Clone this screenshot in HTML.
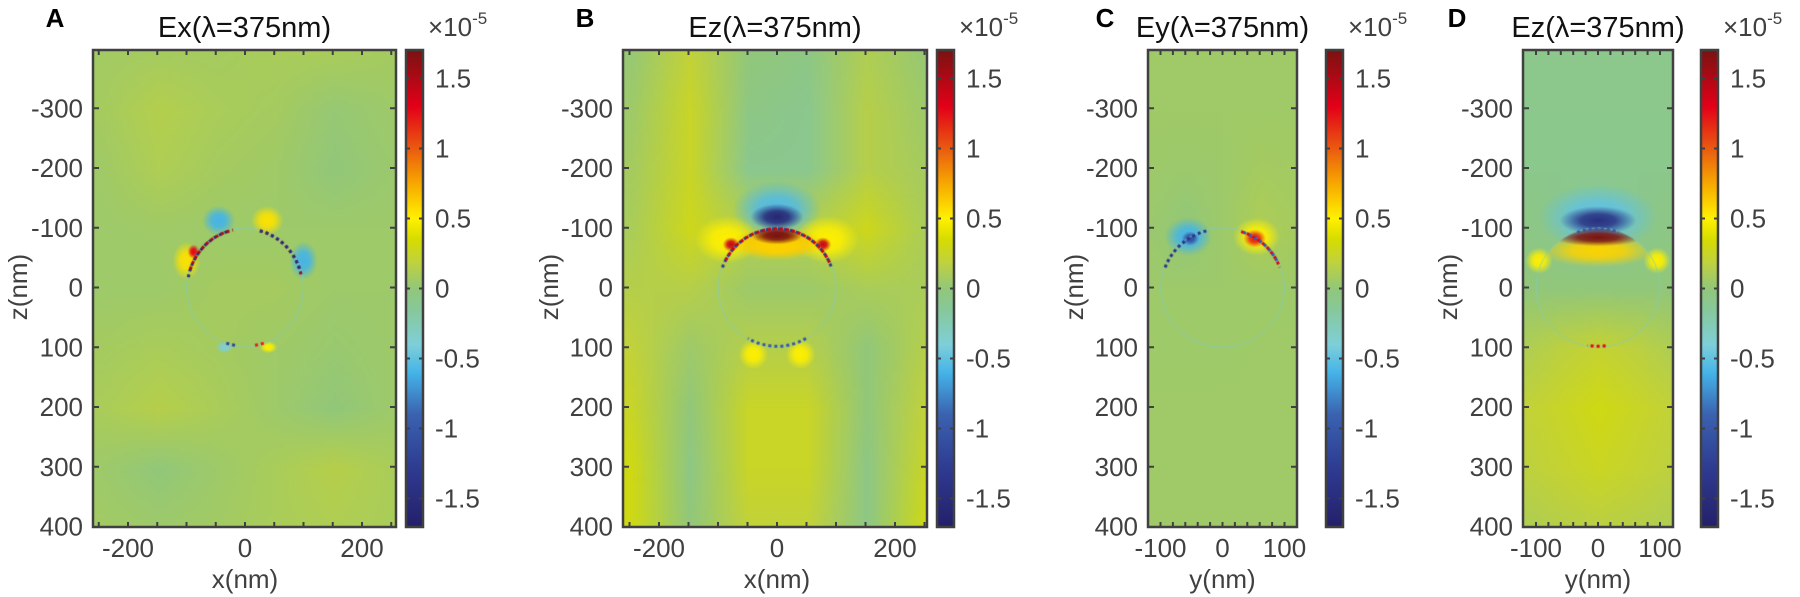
<!DOCTYPE html>
<html><head><meta charset="utf-8">
<style>
html,body{margin:0;padding:0;background:#fff;}
#wrap{position:relative;width:1800px;height:597px;overflow:hidden;font-family:"Liberation Sans",sans-serif;}
canvas{position:absolute;}
svg{position:absolute;left:0;top:0;}
</style></head>
<body>
<div id="wrap">
<svg id="svg" width="1800" height="597"></svg>
</div>
<script>
// ---------- data ----------
const zRows = [-400,-300,-200,-100,0,100,200,300,400];
const xColsWide = [-250,-150,-50,50,150,250];
const xColsNarrow = [-120,-60,0,60,120];
const colorbarTicks = [-1.5,-1,-0.5,0,0.5,1,1.5];
const colorbarTickLabels = ['-1.5','-1','-0.5','0','0.5','1','1.5'];
const zTicks = [-300,-200,-100,0,100,200,300,400];
const xTicksWide = [-200,0,200];
const xTicksNarrow = [-100,0,100];
const fieldA = [
 [0.07,0.08,0.08,0.10,0.10,0.08],
 [0.08,0.14,0.10,0.08,0.02,0.05],
 [0.06,0.12,0.08,0.06,0.00,0.04],
 [0.05,0.06,0.05,0.05,0.05,0.05],
 [0.05,0.05,0.08,0.08,0.05,0.05],
 [0.08,0.10,0.08,0.06,0.03,0.05],
 [0.10,0.15,0.10,0.05,0.00,0.05],
 [0.05,0.00,0.05,0.10,0.15,0.10],
 [0.07,0.05,0.07,0.10,0.12,0.10]];
const fieldB = [
 [0.02,0.20,0.00,-0.05,0.12,0.02],
 [0.05,0.25,-0.05,-0.10,0.15,0.05],
 [0.08,0.25,-0.10,-0.10,0.15,0.08],
 [0.10,0.28,0.15,0.15,0.28,0.10],
 [0.15,0.15,0.05,0.05,0.10,0.10],
 [0.20,0.05,0.15,0.15,0.00,0.15],
 [0.25,0.00,0.25,0.25,0.00,0.20],
 [0.30,-0.05,0.25,0.25,-0.05,0.25],
 [0.30,0.00,0.20,0.20,-0.05,0.30]];
const fieldC = [
 [0.06,0.06,0.06,0.06,0.06],
 [0.06,0.06,0.06,0.06,0.06],
 [0.05,0.04,0.05,0.08,0.07],
 [0.04,0.00,0.05,0.12,0.08],
 [0.05,0.05,0.05,0.05,0.05],
 [0.05,0.05,0.05,0.06,0.06],
 [0.06,0.06,0.06,0.06,0.06],
 [0.06,0.06,0.06,0.06,0.06],
 [0.06,0.06,0.06,0.06,0.06]];
const fieldD = [
 [-0.08,-0.08,-0.08,-0.08,-0.08],
 [-0.08,-0.08,-0.08,-0.08,-0.08],
 [-0.08,-0.09,-0.10,-0.09,-0.08],
 [-0.05,-0.10,-0.15,-0.10,-0.05],
 [0.00,0.00,0.00,0.00,0.00],
 [0.12,0.18,0.22,0.18,0.12],
 [0.20,0.25,0.30,0.25,0.20],
 [0.18,0.22,0.26,0.22,0.18],
 [0.12,0.15,0.17,0.15,0.12]];
// blobs: [x nm, z nm, rx nm, rz nm, value]
const blobsA = [[-45,-112,28,25,-0.6],[38,-112,28,25,0.55],[-100,-45,24,32,0.55],[-88,-60,10,12,1.3],[100,-45,24,32,-0.6],[-35,100,15,10,-0.4],[40,100,15,10,0.5]];
const blobsB = [[0,-130,75,48,-0.55],[85,-80,55,40,0.5],[-85,-80,55,40,0.5],[0,-118,45,22,-1.6],[0,-75,78,25,0.7],[0,-86,42,14,1.7],[-78,-72,14,12,1.4],[78,-72,14,12,1.4],[-40,112,25,25,0.5],[40,112,25,25,0.5]];
const blobsC = [[-55,-85,38,32,-0.6],[55,-85,38,32,0.5],[52,-82,18,15,1.2],[-52,-82,14,12,-1.1]];
const blobsD = [[0,-118,95,55,-0.5],[0,-112,62,24,-1.45],[-95,-45,22,22,0.5],[95,-45,22,22,0.5]];
const innerD = [[0,-62,95,28,0.6],[0,-84,72,15,1.7]];
const innerB = [[0,-70,80,25,0.6],[0,-86,42,14,1.7]];
// rim arcs: [startDeg, endDeg, value]
const rimA = [[190,255,-1.5],[195,258,1.5],[285,350,1.5],[282,345,-1.5],[100,112,-1.2],[68,80,1.2]];
const rimB = [[200,340,-1.3],[205,335,1.4],[60,120,-1.0]];
const rimC = [[200,255,-1.4],[285,340,1.3],[290,335,-1.0]];
const rimD = [[250,290,-1.0],[80,100,1.3]];

// ---------- colormap ----------
const cmV = [-1.7,-1.3,-0.9,-0.6,-0.4,-0.15,0,0.2,0.35,0.5,0.75,1.0,1.3,1.7];
const cmC = ['#24206a','#2e3a8f','#3a62b0','#45b4e8','#7fcfd8','#87c89a','#92c77a','#c2d23a','#d6dc00','#fff000','#f7a800','#ea5a10','#e30018','#7a1212'];
function hex(h){return [parseInt(h.substr(1,2),16),parseInt(h.substr(3,2),16),parseInt(h.substr(5,2),16)];}
function cmap(v){
  if(v<=cmV[0]) return hex(cmC[0]);
  for(let i=1;i<cmV.length;i++){ if(v<=cmV[i]){const t=(v-cmV[i-1])/(cmV[i]-cmV[i-1]);const a=hex(cmC[i-1]),b=hex(cmC[i]);return a.map((c,k)=>Math.round(c+(b[k]-c)*t));}}
  return hex(cmC[cmC.length-1]);
}
function rgba(v,a){const c=cmap(v);return 'rgba('+c[0]+','+c[1]+','+c[2]+','+a+')';}

// ---------- layout ----------
const Y0=50,Y1=527;
function zy(z){return 287.5+z*0.5975;}
function cby(v){return 288.5-v*140;}
const panels=[
 {id:'a',letter:'A',title:'Ex',x0:93,x1:396,xc:245,sc:0.585,cb:406,cols:xColsWide,field:fieldA,blobs:blobsA,inner:null,rim:rimA,xt:xTicksWide,minor:50,xl:'x(nm)',zlx:20,letterX:55},
 {id:'b',letter:'B',title:'Ez',x0:623,x1:927,xc:777,sc:0.59,cb:937,cols:xColsWide,field:fieldB,blobs:blobsB,inner:innerB,rim:rimB,xt:xTicksWide,minor:50,xl:'x(nm)',zlx:551,letterX:585},
 {id:'c',letter:'C',title:'Ey',x0:1148,x1:1297,xc:1222.5,sc:0.62,cb:1326,cols:xColsNarrow,field:fieldC,blobs:blobsC,inner:null,rim:rimC,xt:xTicksNarrow,minor:20,xl:'y(nm)',zlx:1076,letterX:1105},
 {id:'d',letter:'D',title:'Ez',x0:1523,x1:1673,xc:1598,sc:0.62,cb:1701,cols:xColsNarrow,field:fieldD,blobs:blobsD,inner:innerD,rim:rimD,xt:xTicksNarrow,minor:20,xl:'y(nm)',zlx:1450,letterX:1457}
];
const wrap=document.getElementById('wrap');
const svg=document.getElementById('svg');
const NS='http://www.w3.org/2000/svg';
function S(tag,attrs,parent){const e=document.createElementNS(NS,tag);for(const k in attrs)e.setAttribute(k,attrs[k]);(parent||svg).appendChild(e);return e;}
const TC='#404040';
const FS=26;

panels.forEach(p=>{
  const W=p.x1-p.x0,H=Y1-Y0;
  const xp=x=>p.xc+x*p.sc;
  const cv=document.createElement('canvas');
  cv.width=W;cv.height=H;cv.style.left=p.x0+'px';cv.style.top=Y0+'px';
  
  
  wrap.insertBefore(cv,svg);
  const ctx=cv.getContext('2d');
  const nc=p.cols.length,nr=zRows.length;
  const sm=document.createElement('canvas');sm.width=nc;sm.height=nr;
  const sctx=sm.getContext('2d');const img=sctx.createImageData(nc,nr);
  for(let r=0;r<nr;r++)for(let c=0;c<nc;c++){const col=cmap(p.field[r][c]);const i=(r*nc+c)*4;img.data[i]=col[0];img.data[i+1]=col[1];img.data[i+2]=col[2];img.data[i+3]=255;}
  sctx.putImageData(img,0,0);
  ctx.imageSmoothingEnabled=true;
  const cx0=xp(p.cols[0])-p.x0,cx1=xp(p.cols[nc-1])-p.x0;
  const cy0=zy(zRows[0])-Y0,cy1=zy(zRows[nr-1])-Y0;
  const dx=(cx1-cx0)/(nc-1),dy=(cy1-cy0)/(nr-1);
  ctx.fillStyle=rgba(p.field[4][2],1);ctx.fillRect(0,0,W,H);
  ctx.drawImage(sm,0,0,nc,nr,cx0-dx/2,cy0-dy/2,dx*nc,dy*nr);
  function blob(b){
    ctx.save();ctx.translate(xp(b[0])-p.x0,zy(b[1])-Y0);ctx.scale(b[2]*p.sc,b[3]*0.5975);
    const g=ctx.createRadialGradient(0,0,0,0,0,1);
    g.addColorStop(0,rgba(b[4],1));g.addColorStop(0.45,rgba(b[4],0.85));g.addColorStop(1,rgba(b[4],0));
    ctx.fillStyle=g;ctx.beginPath();ctx.arc(0,0,1,0,Math.PI*2);ctx.fill();ctx.restore();
  }
  p.blobs.forEach(blob);
  const scx=xp(0)-p.x0,scy=zy(0)-Y0,R=100*p.sc,Rz=100*0.5975;
  ctx.save();ctx.beginPath();ctx.ellipse(scx,scy,R,Rz,0,0,Math.PI*2);ctx.clip();
  if(p.inner){p.inner.forEach(blob);}
  ctx.restore();
  ctx.strokeStyle=rgba(-0.3,0.7);ctx.lineWidth=1;ctx.beginPath();ctx.ellipse(scx,scy,R,Rz,0,0,Math.PI*2);ctx.stroke();
  p.rim.forEach((a,i)=>{
    ctx.save();ctx.strokeStyle=rgba(a[2],1);ctx.lineWidth=3;ctx.setLineDash([3,3]);ctx.lineDashOffset=i*3;
    ctx.beginPath();ctx.ellipse(scx,scy,R-1,Rz-1,0,a[0]*Math.PI/180,a[1]*Math.PI/180);ctx.stroke();ctx.restore();
  });

  const g=S('g',{});
  const fr=S('rect',{x:p.x0,y:Y0,width:W,height:H,fill:'none',stroke:TC,'stroke-width':2.5},g);
  
  for(let x=Math.ceil(((p.x0-p.xc)/p.sc)/p.minor)*p.minor;xp(x)<p.x1-1;x+=p.minor){
    if(xp(x)<=p.x0+1)continue;
    S('line',{x1:xp(x),x2:xp(x),y1:Y1,y2:Y1-5,stroke:TC,'stroke-width':2},g);
    S('line',{x1:xp(x),x2:xp(x),y1:Y0,y2:Y0+5,stroke:TC,'stroke-width':2},g);
  }
  p.xt.forEach(x=>{
    const t=S('text',{x:xp(x),y:557,'font-size':FS,fill:TC,'text-anchor':'middle'},g);t.textContent=x;
    
  });
  zTicks.forEach(z=>{
    if(z<400){S('line',{x1:p.x0,x2:p.x0+6,y1:zy(z),y2:zy(z),stroke:TC,'stroke-width':2},g);
    S('line',{x1:p.x1,x2:p.x1-6,y1:zy(z),y2:zy(z),stroke:TC,'stroke-width':2},g);}
    const t=S('text',{x:p.x0-10,y:zy(z)+9,'font-size':FS,fill:TC,'text-anchor':'end'},g);t.textContent=z;
    
  });
  const xl=S('text',{x:p.xc,y:588,'font-size':FS,fill:TC,'text-anchor':'middle'},g);xl.textContent=p.xl;
  
  const zl=S('text',{x:p.zlx,y:287,'font-size':FS,fill:TC,'text-anchor':'middle',transform:'rotate(-90 '+p.zlx+' 287)','dominant-baseline':'middle'},g);zl.textContent='z(nm)';
  
  const tt=S('text',{x:(p.x0+p.x1)/2,y:37,'font-size':29,fill:'#111','text-anchor':'middle'},g);
  tt.textContent=p.title+'(λ=375nm)';
  
  const lt=S('text',{x:p.letterX,y:27,'font-size':26,'font-weight':'bold',fill:'#000','text-anchor':'middle'},g);lt.textContent=p.letter;
  
  const gid='cbg'+p.id;
  const lg=S('linearGradient',{id:gid,x1:0,y1:1,x2:0,y2:0},g);
  const vmin=(288.5-Y1)/140,vmax=(288.5-Y0)/140;
  cmV.forEach((v,i)=>{S('stop',{offset:Math.max(0,Math.min(1,(v-vmin)/(vmax-vmin))),'stop-color':cmC[i]},lg);});
  const cb=S('rect',{x:p.cb,y:Y0,width:17,height:H,fill:'url(#'+gid+')',stroke:TC,'stroke-width':2.5},g);
  
  colorbarTicks.forEach((v,i)=>{
    S('line',{x1:p.cb,x2:p.cb+4,y1:cby(v),y2:cby(v),stroke:TC,'stroke-width':2},g);
    S('line',{x1:p.cb+17,x2:p.cb+13,y1:cby(v),y2:cby(v),stroke:TC,'stroke-width':2},g);
    const t=S('text',{x:p.cb+29,y:cby(v)+9,'font-size':FS,fill:TC},g);t.textContent=colorbarTickLabels[i];
    
  });
  const ex=S('text',{x:p.cb+22,y:36,'font-size':FS,fill:TC},g);
  
  const s1=S('tspan',{},ex);s1.textContent='×10';
  const s2=S('tspan',{dy:-12,'font-size':17},ex);s2.textContent='-5';
});
</script>
</body></html>
